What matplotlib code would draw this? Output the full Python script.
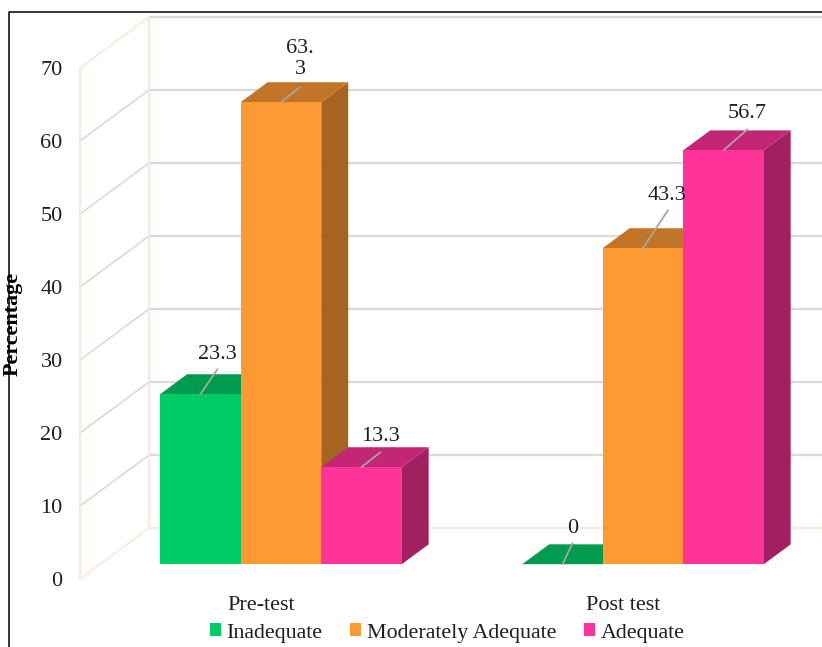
import matplotlib
matplotlib.use("Agg")
import matplotlib.pyplot as plt
from matplotlib.lines import Line2D

plt.rcParams['font.family'] = ['Liberation Serif', 'DejaVu Sans']

categories = ["Pre-test", "Post test"]
series_names = ["Inadequate", "Moderately Adequate", "Adequate"]
inadequate = [23.3, 0]
moderate = [63.3, 43.3]
adequate = [13.3, 56.7]
yticks = [0, 10, 20, 30, 40, 50, 60, 70]

front_colors = ["#00CC66", "#FF9933", "#FF3399"]
top_colors = ["#009B4E", "#C27526", "#C22674"]
side_colors = ["#008442", "#A5641F", "#A32060"]

W, H = 822, 647
fig = plt.figure(figsize=(W / 100, H / 100), dpi=100, facecolor="white")
ax = fig.add_axes([80 / W, 1 - 579 / H, 724 / W, 511 / H])
ax.set_frame_on(False)

# oblique projection: depth 0 is the front plane, depth 1 the back wall
kx = 69 / 362
ky = 51 / 7.3
def proj(x, v, d):
    return x + kx * d, v + ky * d

wall = "#FCE9DC"
grid = "#DADADA"
xleft, xright = -0.5, 1.5

# walls and gridlines
for v in yticks:
    col = wall if v == 0 else grid
    p0 = proj(xleft, v, 0)
    p1 = proj(xleft, v, 1)
    p2 = proj(xright, v, 1)
    dcol = wall if v in (0, 70) else grid
    ax.plot([p0[0], p1[0]], [p0[1], p1[1]], color=dcol, lw=1.2, clip_on=False, zorder=1)
    ax.plot([p1[0], p2[0]], [p1[1], p2[1]], color=col, lw=1.6, clip_on=False, zorder=1)
for d in (0, 1):
    p0 = proj(xleft, 0, d)
    p1 = proj(xleft, 70, d)
    ax.plot([p0[0], p1[0]], [p0[1], p1[1]], color=wall, lw=1.4, clip_on=False, zorder=2)

# 3D bars, drawn left to right so the later fronts cover earlier sides
bar_w = 80.5 / 362
d_front, d_back = 0.29, 0.68
handles = []
z = 3
for g in range(len(categories)):
    for s, vals in enumerate([inadequate, moderate, adequate]):
        v = vals[g]
        xc = g + (s - 1) * bar_w
        x0, x1 = xc - bar_w / 2, xc + bar_w / 2
        top = [proj(x0, v, d_front), proj(x1, v, d_front), proj(x1, v, d_back), proj(x0, v, d_back)]
        side = [proj(x1, 0, d_front), proj(x1, 0, d_back), proj(x1, v, d_back), proj(x1, v, d_front)]
        ax.fill(*zip(*side), color=side_colors[s], lw=0, clip_on=False, zorder=z)
        ax.fill(*zip(*top), color=top_colors[s], lw=0, clip_on=False, zorder=z)
        fx, fy = proj(xc, 0, d_front)
        b = ax.bar(fx, v, bar_w, bottom=fy, color=front_colors[s], lw=0, clip_on=False, zorder=z + 0.5)
        if g == 0:
            handles.append(b[0])
        z += 1

# data labels with leader lines, offsets in pixels from the front top edge
leader_off = [[(17, 25), (19, 15), (19, 15)], [(10, 21), (25, 38), (24, 21)]]
label_off = [[(17, 40), (19, 43), (19, 31)], [(10, 36), (24, 53), (24, 37)]]
label_text = [["23.3", "63.\n3", "13.3"], ["0", "43.3", "56.7"]]
for g in range(len(categories)):
    for s, vals in enumerate([inadequate, moderate, adequate]):
        xy = proj(g + (s - 1) * bar_w, vals[g], d_front)
        ax.annotate("", xy=xy, xytext=leader_off[g][s], textcoords="offset pixels",
                    arrowprops=dict(arrowstyle="-", color="#A6A6A6", lw=1.3, shrinkA=0, shrinkB=0),
                    annotation_clip=False, zorder=40)
        ax.annotate(label_text[g][s], xy=xy, xytext=label_off[g][s], textcoords="offset pixels",
                    ha="center", va="center", fontsize=16, color="#1F1F1F",
                    linespacing=1.15, annotation_clip=False, zorder=41)

ax.set_xlim(xleft, xright)
ax.set_ylim(0, 70)
ax.set_xticks(range(len(categories)), categories)
ax.set_yticks(yticks)
ax.tick_params(axis="both", length=0, labelsize=16, labelcolor="#1F1F1F")
ax.tick_params(axis="y", pad=12.5)
ax.tick_params(axis="x", pad=12)
ax.set_ylabel("Percentage", fontsize=15.8, fontweight="bold", color="black")
ax.yaxis.set_label_coords((23 - 80) / 724, (579 - 323.5) / 511)

ax.legend(handles, series_names, ncol=3, frameon=False, fontsize=15.8,
          loc="center", bbox_to_anchor=(447 / W, 1 - 633 / H), bbox_transform=fig.transFigure,
          handlelength=0.52, handleheight=0.52, handletextpad=0.23, columnspacing=1.27,
          labelcolor="#1F1F1F", borderpad=0)

# outer border of the chart area
fig.add_artist(Line2D([8.5 / W, 8.5 / W, 1], [0, 1 - 11.5 / H, 1 - 11.5 / H], color="black", lw=1.1))

fig.savefig("out.png", dpi=100)
